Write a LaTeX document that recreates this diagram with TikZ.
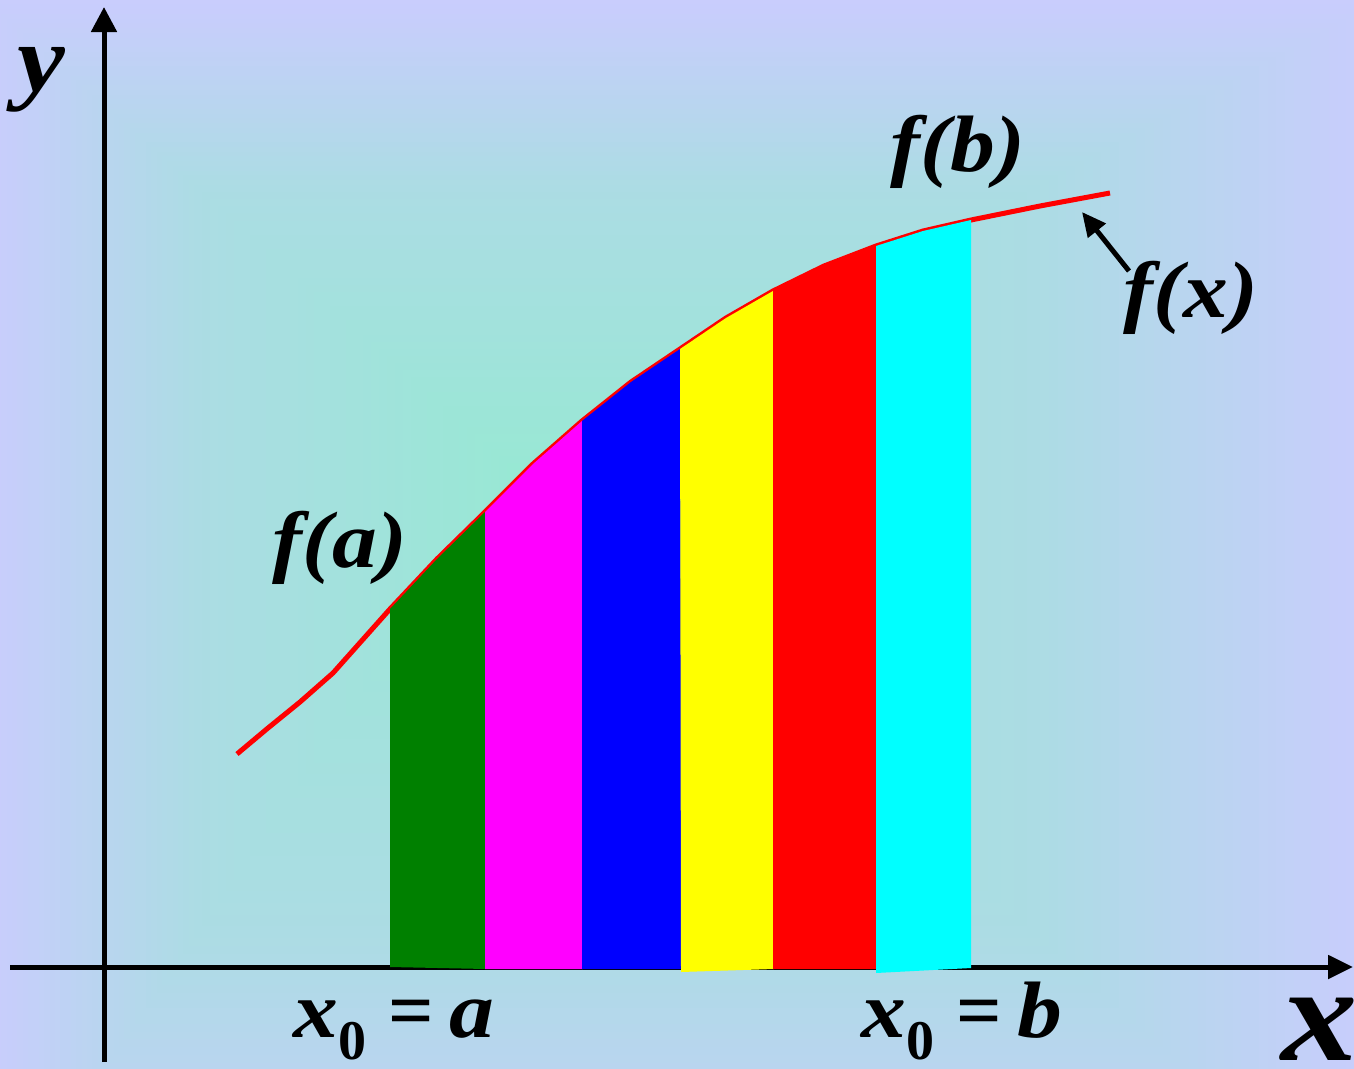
\documentclass[tikz,border=0pt]{standalone}
\usepackage{fontspec}
\setmainfont{Liberation Serif}
\usetikzlibrary{arrows.meta}
\definecolor{bgC}{HTML}{98E8D4}
\definecolor{bgM}{HTML}{ACDCE4}
\definecolor{bgE}{HTML}{CACCFE}
\definecolor{stGreen}{HTML}{008000}
\definecolor{stMagenta}{HTML}{FF00FF}
\definecolor{stBlue}{HTML}{0000FF}
\definecolor{stYellow}{HTML}{FFFF00}
\definecolor{stRed}{HTML}{FF0000}
\definecolor{stCyan}{HTML}{00FFFF}
\tikzset{
  axis/.style={line width=5pt, draw=black, -{Triangle[length=25pt,width=25pt]}},
  curveline/.style={line width=5pt, draw=stRed, line join=round},
  ptr/.style={line width=5pt, draw=black, -{Triangle[length=24pt,width=22pt]}},
  lab/.style={inner sep=0pt, anchor=base, text=black, font=\bfseries\itshape},
  flab/.style={lab, font=\fontsize{80}{80}\selectfont\bfseries\itshape}
}
\newcommand{\wide}[1]{\scalebox{1.12}[1]{#1}}
\begin{document}
\begin{tikzpicture}[x=1pt,y=-1pt]
\useasboundingbox (0,0) rectangle (1354,1068);
% background: rectangular gradient from centre
\def\cx{515}\def\cy{470}
\def\gL{-20}\def\gR{1390}\def\gT{-5}\def\gB{1250}
\begin{scope}
\clip (0,0) rectangle (1354,1068);
\fill[bgE] (0,0) rectangle (1354,1068);
\foreach \i in {0,...,39}{
  \pgfmathsetmacro\t{1-0.4*\i/40}
  \pgfmathtruncatemacro\p{100*(\t-0.6)/0.4}
  \fill[bgE!\p!bgM] ({\cx-\t*(\cx-\gL)},{\cy-\t*(\cy-\gT)}) rectangle ({\cx+\t*(\gR-\cx)},{\cy+\t*(\gB-\cy)});
}
\foreach \i in {0,...,39}{
  \pgfmathsetmacro\t{0.6-0.6*\i/40}
  \pgfmathtruncatemacro\p{100*\t/0.6}
  \fill[bgM!\p!bgC] ({\cx-\t*(\cx-\gL)},{\cy-\t*(\cy-\gT)}) rectangle ({\cx+\t*(\gR-\cx)},{\cy+\t*(\gB-\cy)});
}
\end{scope}
% axes
\coordinate (yb) at (104,1062);
\coordinate (yt) at (104,7);
\coordinate (xl) at (10,967);
\coordinate (xr) at (1353,967);
\draw[axis] (yb) -- (yt);
\draw[axis, -{Triangle[length=25pt,width=23pt]}] (xl) -- (xr);
% curve points
\coordinate (c1) at (237,754);
\coordinate (c2) at (268,728);
\coordinate (c3) at (300,702);
\coordinate (c3b) at (333,673);
\coordinate (c4) at (390,609);
\coordinate (c5) at (437,559);
\coordinate (c6) at (485,512);
\coordinate (c7) at (533,464);
\coordinate (c8) at (582,421);
\coordinate (c9) at (631,382);
\coordinate (c10) at (680,349);
\coordinate (c11) at (726,318);
\coordinate (c12) at (773,291);
\coordinate (c13) at (824,266);
\coordinate (c14) at (876,246);
\coordinate (c15) at (923,231);
\coordinate (c16) at (971,220);
\coordinate (c17) at (1040,206);
\coordinate (c18) at (1110,193);
\draw[curveline] (c1) -- (c2) -- (c3) -- (c3b) -- (c4) -- (c5) -- (c6) -- (c7) -- (c8) -- (c9) -- (c10) -- (c11) -- (c12) -- (c13) -- (c14) -- (c15) -- (c16) -- (c17) -- (c18);
% strips
\fill[stGreen] (390,967) -- (c4) -- (c5) -- (c6) -- (486,969) -- cycle;
\fill[stMagenta] (485,969) -- (c6) -- (c7) -- (c8) -- (583,969) -- cycle;
\fill[stBlue] (582,969) -- (c8) -- (c9) -- (c10) -- (682,969) -- cycle;
\fill[stYellow] (681,972) -- (c10) -- (c11) -- (c12) -- (774,969) -- cycle;
\fill[stRed] (773,969) -- (c12) -- (c13) -- (c14) -- (877,969) -- cycle;
\fill[stCyan] (876,973) -- (c14) -- (c15) -- (c16) -- (971,968) -- cycle;
% pointer to f(x)
\coordinate (ps) at (1129,271);
\coordinate (pe) at (1082,212);
\draw[ptr] (ps) -- (pe);
% labels
\node[lab, font=\fontsize{96}{96}\selectfont\bfseries\itshape] (ylab) at (41,91) {\wide{y}};
\node[lab, font=\fontsize{136}{136}\selectfont\bfseries\itshape] (xlab) at (1320,1060) {\wide{x}};
\node[flab] (fa) at (340,567) {\wide{f(a)}};
\node[flab] (fb) at (958,171) {\wide{f(b)}};
\node[flab] (fx) at (1191,317) {\wide{f(x)}};
\node[lab, anchor=base west, font=\fontsize{80}{80}\selectfont\bfseries\itshape] (xa) at (293,1037) {\wide{x}\raisebox{-22pt}{\fontsize{56}{56}\selectfont\upshape 0}\hspace{22pt}{\upshape=}\hspace{16pt}\wide{a}};
\node[lab, anchor=base west, font=\fontsize{80}{80}\selectfont\bfseries\itshape] (xb) at (861,1037) {\wide{x}\raisebox{-22pt}{\fontsize{56}{56}\selectfont\upshape 0}\hspace{22pt}{\upshape=}\hspace{16pt}\wide{b}};
\end{tikzpicture}
\end{document}
